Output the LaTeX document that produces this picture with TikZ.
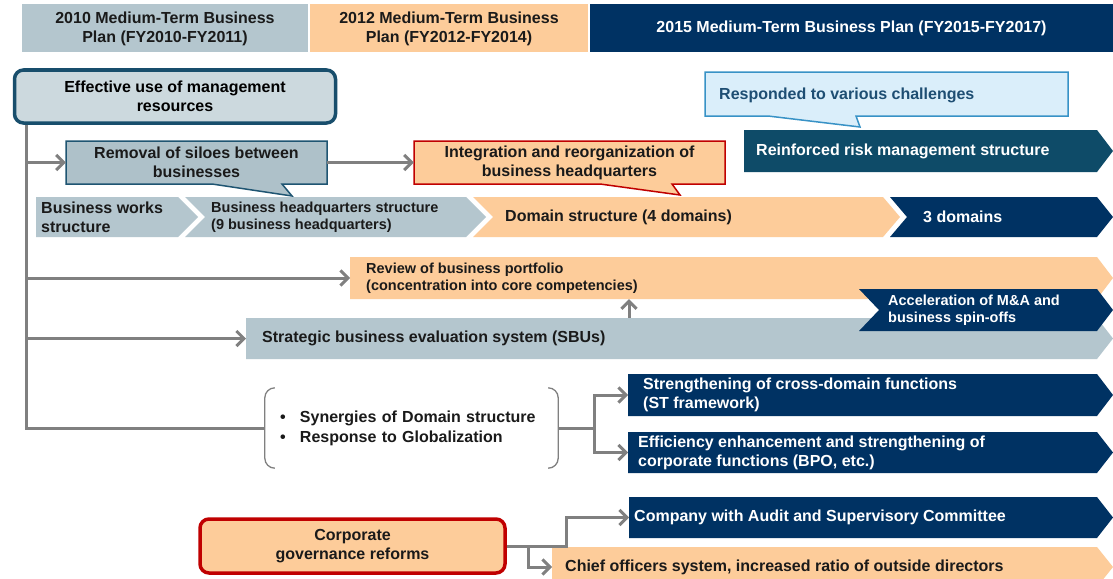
\documentclass[tikz,border=0pt]{standalone}
\usepackage{fontspec}
\setmainfont{Liberation Sans}
\usetikzlibrary{arrows.meta}
\definecolor{hgrey}{RGB}{180,198,206}
\definecolor{peach}{RGB}{253,204,154}
\definecolor{navy}{RGB}{0,50,99}
\definecolor{tealb}{RGB}{14,75,104}
\definecolor{effill}{RGB}{204,217,222}
\definecolor{efbord}{RGB}{24,78,108}
\definecolor{remfill}{RGB}{174,193,201}
\definecolor{rembord}{RGB}{31,85,114}
\definecolor{redb}{RGB}{192,0,0}
\definecolor{lbfill}{RGB}{218,238,250}
\definecolor{lbbord}{RGB}{56,146,198}
\definecolor{lbtext}{RGB}{30,78,115}
\definecolor{agrey}{RGB}{128,128,128}
\definecolor{txt}{RGB}{26,26,26}
\newcommand\fntL{\bfseries\fontsize{16}{19}\selectfont}
\newcommand\fntS{\bfseries\fontsize{14.5}{17.5}\selectfont}
\newcommand\chev[7]{\fill[#1] (#2,#3) -- (#4,#3) -- ({#4+#7},{(#3+#5)/2}) -- (#4,#5) -- (#2,#5) -- ({#2+#6},{(#3+#5)/2}) -- cycle;}
\begin{document}
\begin{tikzpicture}[x=1pt,y=-1pt,
  box/.style={inner sep=0pt, align=center, font=\fntL, text=txt},
  lbl/.style={anchor=west, inner ysep=0pt, align=left, font=\fntL, text=txt},
  gline/.style={draw=agrey, line width=3pt},
  arr/.style={gline, -{Straight Barb[length=7.5pt,width=15pt]}},
  brk/.style={draw=agrey, line width=1.3pt},
]
\clip (0,0) rectangle (1113,578);
\fill[white] (0,0) rectangle (1113,578);

% header
\node[box, minimum width=286pt, minimum height=48pt, fill=hgrey] (h1) at (165,28.5) {2010 Medium-Term Business\\Plan (FY2010-FY2011)};
\node[box, minimum width=278pt, minimum height=48pt, fill=peach] (h2) at (449,28.5) {2012 Medium-Term Business\\Plan (FY2012-FY2014)};
\node[box, minimum width=523pt, minimum height=48pt, fill=navy, text=white] (h3) at (851.5,28.5) {2015 Medium-Term Business Plan (FY2015-FY2017)};

% chevrons
\chev{tealb}{744}{130}{1097}{172}{0}{16}
\chev{hgrey}{36}{197}{178}{237}{0}{20}
\chev{hgrey}{185}{197}{466}{237}{20}{20}
\chev{peach}{473}{197}{883}{237}{20}{17}
\chev{navy}{890}{197}{1097}{237}{17}{16}
\chev{peach}{350}{257}{1097}{299}{0}{16}
\chev{hgrey}{246}{318}{1097}{359}{0}{16}
\chev{navy}{859}{289}{1097}{331}{20}{16}
\chev{navy}{628}{374}{1097}{416}{0}{16}
\chev{navy}{628}{432}{1097}{473}{0}{16}
\chev{navy}{629}{497}{1097}{538}{0}{16}
\chev{peach}{552}{547}{1097}{587}{0}{16}

% effective box
\node[box, minimum width=321pt, minimum height=53pt, rounded corners=9pt, draw=efbord, line width=3.5pt, fill=effill, text=black] (eff) at (175,96.5) {Effective use of management\\resources};

% callouts
\filldraw[fill=lbfill, draw=lbbord, line width=1.5pt] (705,72) -- (1068,72) -- (1068,116) -- (856,116) -- (860,127) -- (768,116) -- (705,116) -- cycle;
\node[lbl, text=lbtext, inner xsep=14pt, minimum height=44pt] (resp) at (705,95) {Responded to various challenges};

\filldraw[fill=remfill, draw=rembord, line width=1.5pt] (66,141) -- (327,141) -- (327,184) -- (282,184) -- (292,196) -- (212,184) -- (66,184) -- cycle;
\node[box, minimum width=261pt, minimum height=43pt] (rem) at (196.5,162.5) {Removal of siloes between\\businesses};

\filldraw[fill=peach, draw=redb, line width=1.5pt] (414,141) -- (725,141) -- (725,184) -- (672,184) -- (680,195) -- (600,184) -- (414,184) -- cycle;
\node[box, minimum width=311pt, minimum height=43pt] (integ) at (569.5,162.5) {Integration and reorganization of\\business headquarters};

% chevron labels
\node[lbl, text=white, inner xsep=12pt, minimum height=42pt] (rrm) at (744,151) {Reinforced risk management structure};
\node[lbl, inner xsep=5pt, minimum height=40pt] (bws) at (36,217) {Business works\\structure};
\node[lbl, font=\fntS, inner xsep=26pt, minimum height=40pt] (bhs) at (185,217) {Business headquarters structure\\(9 business headquarters)};
\node[lbl, inner xsep=32pt, minimum height=40pt] (dom) at (473,217) {Domain structure (4 domains)};
\node[lbl, text=white, inner xsep=33pt, minimum height=40pt] (d3) at (890,217) {3 domains};
\node[lbl, font=\fntS, inner xsep=16pt, minimum height=42pt] (port) at (350,278) {Review of business portfolio\\(concentration into core competencies)};
\node[lbl, inner xsep=16pt, minimum height=41pt] (sbu) at (246,338.5) {Strategic business evaluation system (SBUs)};
\node[lbl, font=\fntS, text=white, inner xsep=29pt, minimum height=42pt] (acc) at (859,310) {Acceleration of M\&A and\\business spin-offs};
\node[lbl, text=white, inner xsep=15pt, minimum height=42pt] (str) at (628,395) {Strengthening of cross-domain functions\\(ST framework)};
\node[lbl, text=white, inner xsep=10pt, minimum height=41pt] (effc) at (628,452.5) {Efficiency enhancement and strengthening of\\corporate functions (BPO, etc.)};
\node[lbl, text=white, inner xsep=5pt, minimum height=41pt] (comp) at (629,517.5) {Company with Audit and Supervisory Committee};
\node[lbl, inner xsep=13pt, minimum height=40pt] (chief) at (552,567) {Chief officers system, increased ratio of outside directors};

% synergies bracket
\node[lbl, anchor=center, font=\bfseries\fontsize{16}{20}\selectfont, text width=263pt, inner xsep=15pt, minimum height=80pt] (syn) at (411.5,428) {\makebox[20pt][l]{•}Synergies of Domain structure\\\makebox[20pt][l]{•}Response to Globalization};
\draw[brk, rounded corners=10pt] ([xshift=10pt]syn.north west) -- (syn.north west) -- (syn.south west) -- ([xshift=10pt]syn.south west);
\draw[brk, rounded corners=10pt] ([xshift=-10pt]syn.north east) -- (syn.north east) -- (syn.south east) -- ([xshift=-10pt]syn.south east);

% corporate governance
\node[box, minimum width=305pt, minimum height=54pt, rounded corners=9pt, draw=redb, line width=3.5pt, fill=peach] (corp) at (352.5,546) {Corporate\\governance reforms};

% connectors
\coordinate (tr) at (26,0);
\coordinate (ux) at (629,0);
\coordinate (fk) at (594,0);
\coordinate (c1) at (566,0);
\coordinate (c2) at (528,0);
\draw[gline] (eff.south -| tr) -- (syn.west -| tr) -- (syn.west);
\draw[arr] (rem.west -| tr) -- (rem.west);
\draw[arr] (rem.east) -- (integ.west);
\draw[arr] (port.west -| tr) -- (port.west);
\draw[arr] (sbu.west -| tr) -- (sbu.west);
\draw[arr] (sbu.north -| ux) -- (port.south -| ux);
\draw[gline] (syn.east) -- (syn.east -| fk);
\draw[arr] (syn.east -| fk) |- (str.west);
\draw[arr] (syn.east -| fk) |- (effc.west);
\draw[arr] (corp.east) -- (corp.east -| c1) |- (comp.west);
\draw[arr] (corp.east -| c2) |- (chief.west);
\end{tikzpicture}
\end{document}
